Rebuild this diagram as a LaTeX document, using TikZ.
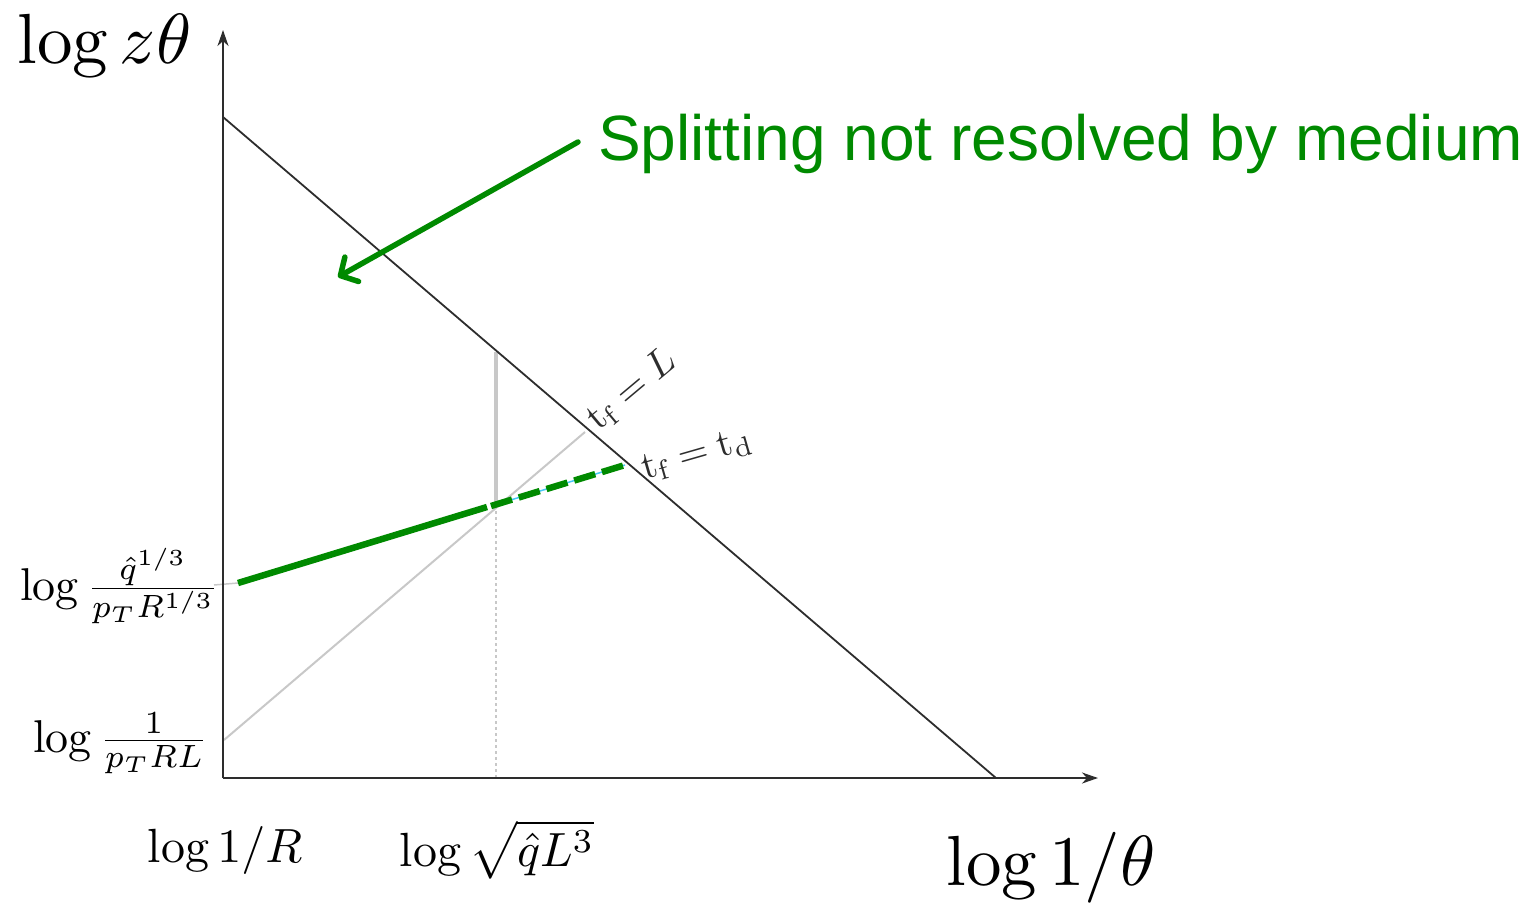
\documentclass[tikz,border=0pt]{standalone}
\usepackage{fontspec}
\newfontfamily\arialf{Liberation Sans}
\usetikzlibrary{arrows.meta}
\definecolor{grn}{RGB}{0,138,0}
\definecolor{lgray}{RGB}{200,200,200}
\definecolor{dk}{RGB}{45,45,45}
\definecolor{lblue}{RGB}{70,200,245}
\tikzset{
  axisline/.style={dk, line width=2pt, -{Stealth[length=16pt,width=11pt,inset=5pt]}},
  diagline/.style={dk, line width=1.8pt},
  greyline/.style={lgray, line width=2pt},
  greenline/.style={grn, line width=6.5pt},
  biglab/.style={inner sep=0pt, scale=7.1},
  midlab/.style={inner sep=0pt, scale=4.8},
  sidelab/.style={inner sep=0pt, scale=4.6},
  linelab/.style={inner sep=0pt, scale=3.9, text=dk},
}
\begin{document}
\begin{tikzpicture}[x=1pt,y=-1pt]
\useasboundingbox (0,0) rectangle (1525,908);
% coordinates
\coordinate (O) at (223,778);
\coordinate (Ytip) at (223,30);
\coordinate (Xtip) at (1098,778);
\coordinate (DA) at (223,117);
\coordinate (DB) at (996,778);
\coordinate (GA) at (224,740);
\coordinate (GB) at (585,432);
\coordinate (VA) at (496,352);
\coordinate (VB) at (496,505);
\coordinate (VC) at (496,778);
\coordinate (TK) at (214,585);
\coordinate (SA) at (238,583);
\coordinate (SB) at (487,507);
\coordinate (SC) at (491,506);
\coordinate (SD) at (625,465);
\coordinate (AR1) at (578,142);
\coordinate (AR2) at (338,277);

% grey lines
\draw[greyline] (GA) -- (GB);
\draw[lgray, line width=3.5pt] (VA) -- (VB);
\draw[lgray, line width=2.5pt, dash pattern=on 3pt off 3pt] (VB) -- (VC);
\draw[lgray, line width=1.5pt] (TK) -- (SA);

% diagonal
\draw[diagline] (DA) -- (DB);

% axes
\draw[axisline] (O) -- (Ytip);
\draw[axisline] (O) -- (Xtip);

% green line
\draw[greenline] (SA) -- (SB);
\draw[lblue, line width=1.5pt] (SC) -- (SD);
\draw[greenline, dash pattern=on 22pt off 7pt] (SC) -- (SD);

% green arrow
\draw[grn, line width=5.5pt, line cap=round, -{Straight Barb[length=13pt,width=28pt,round]}] (AR1) -- (AR2);

% labels
\node[biglab, anchor=base west] (ylab) at (16,63) {$\log z\theta$};
\node[biglab, anchor=base west] (xlab) at (945,885) {$\log 1/\theta$};
\node[midlab, anchor=base] (xR) at (225,862) {$\log 1/R$};
\node[midlab, anchor=base] (xQ) at (497,866) {$\log\sqrt{\hat{q}L^3}$};
\node[sidelab, anchor=base east] (yQ) at (220,600) {$\log\frac{\hat{q}^{1/3}}{p_TR^{1/3}}$};
\node[sidelab, anchor=base east] (yL) at (209,752) {$\log\frac{1}{p_TRL}$};
\node[linelab, rotate=40] (tfL) at (632,390) {$\mathrm{t_f}=L$};
\node[linelab, rotate=16] (tftd) at (697,455) {$\mathrm{t_f}=\mathrm{t_d}$};
\node[inner sep=0pt, anchor=base west, text=grn, font=\arialf\fontsize{64}{72}\selectfont] (title) at (598,160) {Splitting not resolved by medium};
\end{tikzpicture}
\end{document}
